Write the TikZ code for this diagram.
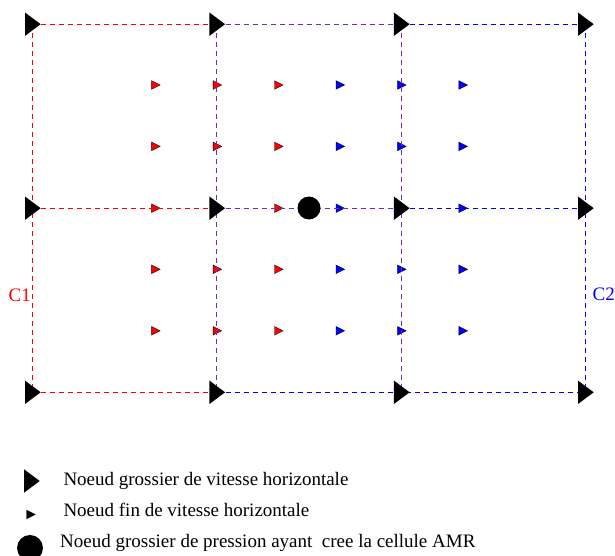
\documentclass[tikz,border=0pt]{standalone}
\usepackage{fontspec}
\setmainfont{Liberation Serif}
\definecolor{mixcol}{rgb}{0.45,0.15,0.82}
\begin{document}
\begin{tikzpicture}[x=1pt,y=-1pt,
  gridline/.style={dash pattern=on 5pt off 4pt, line width=1pt},
  lbl/.style={font=\fontsize{19}{22}\selectfont, inner sep=0pt},
  pics/bigtri/.style={code={\fill[black] (-7.3,11.7) -- (8.4,0) -- (-7.3,-11.7) -- cycle;}},
  pics/smalltri/.style={code={\filldraw[fill=#1,draw=black,line width=0.35pt] (-3.6,4.3) -- (5,0) -- (-3.6,-4.3) -- cycle;}}
]
\useasboundingbox (0,0) rectangle (615,556);
\fill[white] (0,0) rectangle (615,556);

% coarse grid points
\coordinate (g00) at (32.3,24.2);  \coordinate (g01) at (32.3,208.2);  \coordinate (g02) at (32.3,392.3);
\coordinate (g10) at (216.7,24.2); \coordinate (g11) at (216.7,208.2); \coordinate (g12) at (216.7,392.3);
\coordinate (g20) at (401.2,24.2); \coordinate (g21) at (401.2,208.2); \coordinate (g22) at (401.2,392.3);
\coordinate (g30) at (585.3,24.2); \coordinate (g31) at (585.3,208.2); \coordinate (g32) at (585.3,392.3);

% fine nodes (C1 red, C2 blue)
\foreach \x in {155.2,216.7,278.1}{
  \foreach \y in {85,146.4,208.2,269.3,330.8}{
    \pic at (\x,\y) {smalltri=red};
  }
}
\foreach \x in {339.6,401.2,462.5}{
  \foreach \y in {85,146.4,208.2,269.3,330.8}{
    \pic at (\x,\y) {smalltri=blue};
  }
}

% C1 grid (red)
\draw[gridline, draw=red] (g00) -- (g10) (g01) -- (g11) (g02) -- (g12) (g00) -- (g02);
% shared lines
\draw[gridline, draw=mixcol] (g10) -- (g20) (g11) -- (g21) (g10) -- (g12) (g20) -- (g22);
% C2 grid (blue)
\draw[gridline, draw=blue] (g20) -- (g30) (g21) -- (g31) (g12) -- (g32) (g30) -- (g32);

% coarse velocity nodes
\foreach \n in {g00,g01,g02,g10,g11,g12,g20,g21,g22,g30,g31,g32}{
  \pic at (\n) {bigtri};
}

% pressure node that created the AMR cell
\node[circle, fill=black, minimum size=23pt, inner sep=0pt] (press) at (309,208) {};

% labels
\node[lbl, text=red, anchor=east] (c1) at (31,295) {C1};
\node[lbl, text=blue, anchor=west] (c2) at (592.5,294) {C2};

% legend
\pic at (31.3,481) {bigtri};
\node[lbl, anchor=base west] (leg1) at (63.3,485.7) {Noeud grossier de vitesse horizontale};
\pic at (30.3,514.5) {smalltri=black};
\node[lbl, anchor=base west] (leg2) at (63.3,516.7) {Noeud fin de vitesse horizontale};
\node[circle, fill=black, minimum size=26pt, inner sep=0pt] (legc) at (30,548) {};
\node[lbl, anchor=base west] (leg3) at (60,547.3) {Noeud grossier de pression ayant\ \ cree la cellule AMR};
\end{tikzpicture}
\end{document}
